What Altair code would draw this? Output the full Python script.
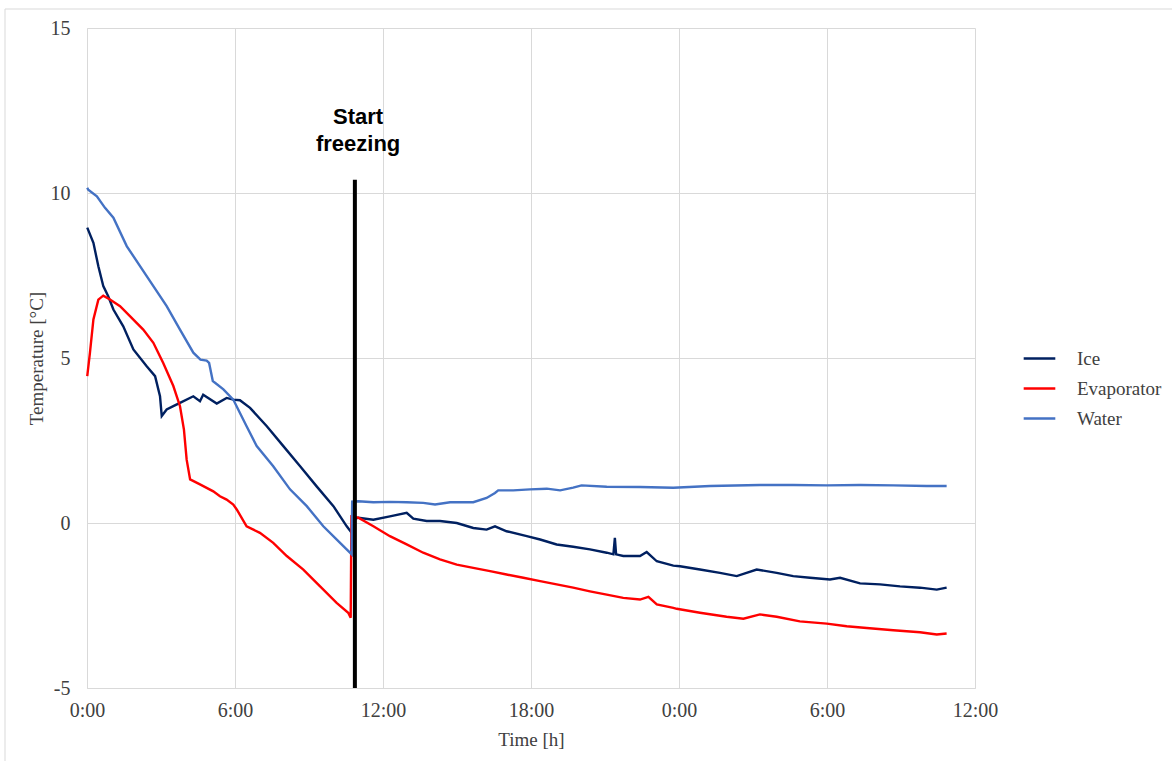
import altair as alt
import pandas as pd

# ---- data (time in hours from start, temperature in °C) ----
ice_t = [0.01, 0.26, 0.46, 0.66, 0.86, 1.07, 1.47, 1.88, 2.42, 2.76, 2.96, 3.03, 3.23, 3.5, 3.77,
         4.31, 4.58, 4.71, 5.26, 5.66, 5.93, 6.2, 6.61, 7.29, 7.96, 8.64, 9.31, 9.99, 10.53, 10.73,
         10.78, 11.0, 11.61, 12.28, 12.96, 13.23, 13.77, 14.31, 14.99, 15.66, 16.2, 16.54, 17.01,
         17.83, 18.37, 19.04, 19.71, 20.39, 21.07, 21.34, 21.4, 21.45, 21.74, 22.42, 22.69, 23.1,
         23.77, 24.04, 24.85, 25.66, 26.34, 27.15, 27.96, 28.63, 29.31, 30.12, 30.53, 31.34, 32.15,
         32.96, 33.77, 34.45, 34.85]
ice_v = [8.95, 8.49, 7.78, 7.18, 6.87, 6.47, 5.96, 5.26, 4.75, 4.45, 3.84, 3.24, 3.44, 3.54, 3.64,
         3.84, 3.69, 3.89, 3.62, 3.79, 3.74, 3.72, 3.49, 2.93, 2.33, 1.72, 1.11, 0.51, -0.1, -0.3,
         0.1, 0.16, 0.1, 0.2, 0.31, 0.13, 0.06, 0.06, 0.0, -0.15, -0.2, -0.1, -0.25,
         -0.4, -0.5, -0.65, -0.72, -0.8, -0.9, -0.95, -0.45, -0.95, -1.0, -1.0, -0.88, -1.16,
         -1.29, -1.31, -1.41, -1.51, -1.61, -1.41, -1.51, -1.61, -1.66, -1.71, -1.66, -1.83, -1.86,
         -1.92, -1.96, -2.02, -1.96]

evap_t = [0.01, 0.12, 0.26, 0.46, 0.66, 0.93, 1.34, 1.74, 2.28, 2.69, 3.09, 3.5, 3.77, 3.93,
          4.04, 4.18, 4.58, 5.12, 5.39, 5.66, 5.93, 6.07, 6.47, 7.01, 7.55, 8.1, 8.77, 9.45, 10.12,
          10.59, 10.69, 10.72, 11.0, 11.61, 12.28, 12.96, 13.63, 14.31, 14.99, 15.66, 16.34, 17.01,
          17.69, 18.37, 19.04, 19.71, 20.39, 21.07, 21.74, 22.42, 22.76, 23.1, 23.77, 23.91, 24.85,
          25.93, 26.61, 27.28, 27.96, 28.9, 29.99, 30.8, 31.61, 32.69, 33.77, 34.45, 34.85]
evap_v = [4.45, 5.16, 6.17, 6.77, 6.89, 6.77, 6.57, 6.27, 5.86, 5.46, 4.85, 4.15, 3.54, 2.83,
          1.92, 1.32, 1.17, 0.96, 0.81, 0.71, 0.56, 0.41, -0.1, -0.3, -0.6, -1.0, -1.41, -1.92, -2.42,
          -2.72, -2.87, 0.2, 0.16, -0.1, -0.4, -0.65, -0.9, -1.1, -1.26, -1.36, -1.46, -1.56,
          -1.66, -1.76, -1.86, -1.96, -2.07, -2.17, -2.27, -2.32, -2.24, -2.47, -2.57, -2.6, -2.72,
          -2.84, -2.9, -2.77, -2.84, -2.98, -3.05, -3.13, -3.18, -3.25, -3.31, -3.38, -3.35]

water_t = [0.01, 0.05, 0.4, 0.73, 1.07, 1.61, 2.42, 3.23, 3.77, 4.31, 4.6, 4.85, 4.95, 5.1, 5.19,
           5.53, 5.93, 6.13, 6.47, 6.88, 7.55, 8.23, 8.91, 9.58, 10.26, 10.66, 10.73, 10.75, 11.0,
           11.61, 12.28, 12.96, 13.63, 14.11, 14.72, 15.66, 16.2, 16.54, 16.67, 17.28, 17.96, 18.64,
           19.18, 19.71, 20.05, 21.07, 22.42, 23.77, 25.26, 27.28, 28.63, 29.99, 31.34, 32.69,
           34.04, 34.85]
water_v = [10.16, 10.1, 9.9, 9.55, 9.25, 8.39, 7.48, 6.57, 5.86, 5.16, 4.95, 4.92, 4.85, 4.3, 4.25,
           4.05, 3.74, 3.44, 2.93, 2.33, 1.72, 1.02, 0.51, -0.1, -0.6, -0.9, -0.95, 0.65, 0.66,
           0.63, 0.64, 0.63, 0.61, 0.56, 0.63, 0.63, 0.76, 0.91, 0.99, 0.99, 1.02, 1.04,
           0.99, 1.07, 1.14, 1.1, 1.09, 1.07, 1.12, 1.15, 1.15, 1.14, 1.15, 1.14,
           1.12, 1.12]

series_names = ["Ice", "Evaporator", "Water"]
series_colors = ["#002060", "#FF0000", "#4472C4"]

freeze_time = [10.86]
freeze_top = [10.4]
freeze_label = ["Start\nfreezing"]
label_time = [10.99]
label_level = [12.1]

x_ticks = [0, 6, 12, 18, 24, 30, 36]
y_ticks = [-5, 0, 5, 10, 15]

# ---- build table ----
rows = []
for name, ts, vs in [("Ice", ice_t, ice_v), ("Evaporator", evap_t, evap_v), ("Water", water_t, water_v)]:
    for i, (t, v) in enumerate(zip(ts, vs)):
        rows.append({"series": name, "t": t, "temp": v, "order": i})
df = pd.DataFrame(rows)

freeze_df = pd.DataFrame({"t": freeze_time, "top": freeze_top, "bottom": [-5]})
label_df = pd.DataFrame({"t": label_time, "y": label_level, "label": freeze_label})

SERIF = "Liberation Serif"
GRID = "#D9D9D9"
TXT = "#404040"

x_enc = alt.X("t:Q", scale=alt.Scale(domain=[0, 36], nice=False),
              axis=alt.Axis(values=x_ticks, labelExpr="(datum.value % 24) + ':00'",
                            title="Time [h]", grid=True, gridColor=GRID, domainColor=GRID,
                            ticks=False, tickSize=0, labelPadding=12, titlePadding=10,
                            labelFlush=False, labelOverlap=False,
                            labelFont=SERIF, labelFontSize=20, titleFont=SERIF,
                            titleFontSize=19, titleFontWeight="normal",
                            labelColor=TXT, titleColor=TXT))
y_enc = alt.Y("temp:Q", scale=alt.Scale(domain=[-5, 15], nice=False),
              axis=alt.Axis(values=y_ticks, labelExpr="datum.value + ''",
                            title="Temperature [°C]", grid=True, gridColor=GRID,
                            domainColor=GRID, ticks=False, tickSize=0, labelPadding=17,
                            labelFlush=False, labelOverlap=False,
                            titlePadding=4, labelFont=SERIF, labelFontSize=20,
                            titleFont=SERIF, titleFontSize=19, titleFontWeight="normal",
                            labelColor=TXT, titleColor=TXT))

lines = alt.Chart(df).mark_line(strokeWidth=2.4).encode(
    x=x_enc,
    y=y_enc,
    order="order:Q",
    color=alt.Color("series:N",
                    scale=alt.Scale(domain=series_names, range=series_colors),
                    sort=series_names,
                    legend=alt.Legend(title=None, orient="none", legendX=935, legendY=313,
                                      symbolType="stroke", symbolSize=1000, symbolStrokeWidth=2.5,
                                      labelFont=SERIF, labelFontSize=19, labelColor=TXT,
                                      labelOffset=20, rowPadding=2)),
)

frame = alt.Chart(pd.DataFrame({"a": [0]})).mark_rect(
    fill=None, stroke=GRID, strokeWidth=1).encode(
    x=alt.value(-82), x2=alt.value(1100), y=alt.value(-19), y2=alt.value(760))

rule = alt.Chart(freeze_df).mark_rule(color="black", strokeWidth=4).encode(
    x="t:Q", y="top:Q", y2="bottom:Q")

text = alt.Chart(label_df).mark_text(
    font="Liberation Sans", fontSize=22, fontWeight="bold", color="black",
    lineBreak="\n", baseline="alphabetic", align="center", lineHeight=27).encode(
    x="t:Q", y="y:Q", text="label:N")

chart = alt.layer(frame, lines, rule, text).properties(
    width=888, height=660,
    autosize=alt.AutoSizeParams(type="none"),
    padding={"left": 87, "top": 28, "right": 197, "bottom": 73},
    background="white",
).configure_view(stroke=None)

chart.save("out.html", embed_options={"renderer": "svg", "actions": False})
